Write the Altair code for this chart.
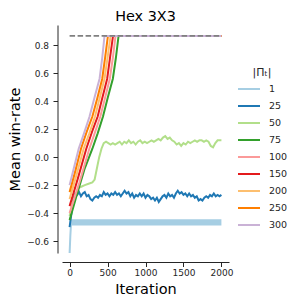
import altair as alt
import pandas as pd

# ---- data ----
policy_sizes = ["1", "25", "50", "75", "100", "150", "200", "250", "300"]
palette = ["#a6cee3", "#1f78b4", "#b2df8a", "#33a02c", "#fb9a99",
           "#e31a1c", "#fdbf6f", "#ff7f00", "#cab2d6"]

optimum_x = [0, 2000]
optimum_y = [0.866, 0.866]

# |Pi_t| = 1 : start segment, then a thin oscillating band
s1_x = [0, 10, 20]
s1_y = [-0.69, -0.56, -0.466]
band_x = [20, 2000]
band_lo = [-0.488, -0.488]
band_hi = [-0.443, -0.443]

s25_x = [0, 25, 50, 75, 100, 125, 150, 175, 200, 225, 250, 275, 300, 325, 350,
         375, 400, 425, 450, 475, 500, 525, 550, 575, 600, 625, 650, 675, 700,
         725, 750, 775, 800, 825, 850, 875, 900, 925, 950, 975, 1000, 1025, 1050,
         1075, 1100, 1125, 1150, 1175, 1200, 1225, 1250, 1275, 1300, 1325, 1350,
         1375, 1400, 1425, 1450, 1475, 1500, 1525, 1550, 1575, 1600, 1625, 1650,
         1675, 1700, 1725, 1750, 1775, 1800, 1825, 1850, 1875, 1900, 1925, 1950,
         1975, 2000]
s25_y = [-0.50, -0.40, -0.30, -0.26, -0.27, -0.25, -0.28, -0.26, -0.25, -0.28,
         -0.27, -0.30, -0.31, -0.29, -0.28, -0.29, -0.27, -0.28, -0.25, -0.27,
         -0.26, -0.28, -0.26, -0.27, -0.25, -0.27, -0.26, -0.28, -0.26, -0.24,
         -0.26, -0.25, -0.28, -0.26, -0.29, -0.27, -0.28, -0.26, -0.28, -0.26,
         -0.29, -0.27, -0.28, -0.30, -0.29, -0.31, -0.29, -0.32, -0.30, -0.28,
         -0.27, -0.29, -0.26, -0.28, -0.27, -0.29, -0.26, -0.24, -0.26, -0.25,
         -0.27, -0.26, -0.28, -0.26, -0.28, -0.27, -0.29, -0.28, -0.31, -0.30,
         -0.31, -0.29, -0.28, -0.29, -0.27, -0.28, -0.26, -0.28, -0.27, -0.28,
         -0.27]

s50_x = [0, 40, 80, 120, 160, 200, 250, 300, 330, 360, 390, 420, 450, 480, 510,
         540, 570, 600, 630, 660, 690, 720, 750, 780, 810, 840, 870, 900, 930,
         960, 990, 1020, 1050, 1080, 1110, 1140, 1170, 1200, 1230, 1260, 1290,
         1320, 1350, 1380, 1410, 1440, 1470, 1500, 1530, 1560, 1590, 1620, 1650,
         1680, 1710, 1740, 1770, 1800, 1830, 1860, 1890, 1920, 1950, 2000]
s50_y = [-0.42, -0.33, -0.26, -0.22, -0.21, -0.20, -0.19, -0.18, -0.16, -0.08,
         0.00, 0.06, 0.10, 0.11, 0.10, 0.09, 0.10, 0.09, 0.10, 0.11, 0.09, 0.11,
         0.10, 0.12, 0.10, 0.11, 0.09, 0.11, 0.12, 0.10, 0.11, 0.10, 0.11, 0.12,
         0.11, 0.12, 0.13, 0.12, 0.14, 0.15, 0.13, 0.14, 0.12, 0.11, 0.09, 0.10,
         0.08, 0.10, 0.09, 0.11, 0.10, 0.11, 0.12, 0.11, 0.12, 0.12, 0.11, 0.12,
         0.11, 0.08, 0.07, 0.10, 0.12, 0.12]

s75_x = [0, 100, 200, 300, 370, 440, 505, 570, 610, 645, 2000]
s75_y = [-0.45, -0.26, -0.08, 0.06, 0.17, 0.29, 0.43, 0.56, 0.71, 0.866, 0.866]
s100_x = [0, 130, 260, 330, 405, 470, 530, 570, 605, 2000]
s100_y = [-0.40, -0.18, 0.06, 0.17, 0.29, 0.43, 0.56, 0.71, 0.866, 0.866]
s150_x = [0, 110, 220, 295, 370, 430, 495, 535, 572, 2000]
s150_y = [-0.35, -0.15, 0.06, 0.18, 0.29, 0.42, 0.56, 0.72, 0.866, 0.866]
s200_x = [0, 90, 185, 260, 335, 400, 460, 500, 540, 2000]
s200_y = [-0.30, -0.13, 0.06, 0.17, 0.29, 0.43, 0.56, 0.71, 0.866, 0.866]
s250_x = [0, 75, 150, 225, 300, 365, 430, 470, 505, 2000]
s250_y = [-0.25, -0.10, 0.06, 0.18, 0.29, 0.42, 0.56, 0.72, 0.866, 0.866]
s300_x = [0, 60, 120, 190, 263, 330, 395, 430, 460, 2000]
s300_y = [-0.20, -0.07, 0.06, 0.17, 0.29, 0.43, 0.56, 0.71, 0.866, 0.866]

x_ticks = [0, 500, 1000, 1500, 2000]
y_ticks = [-0.6, -0.4, -0.2, 0.0, 0.2, 0.4, 0.6, 0.8]

# ---- tables ----
series = [("1", s1_x, s1_y), ("25", s25_x, s25_y), ("50", s50_x, s50_y),
          ("75", s75_x, s75_y), ("100", s100_x, s100_y), ("150", s150_x, s150_y),
          ("200", s200_x, s200_y), ("250", s250_x, s250_y), ("300", s300_x, s300_y)]
rows = []
for name, xs, ys in series:
    for xv, yv in zip(xs, ys):
        rows.append({"policies": name, "iteration": xv, "winrate": yv})
df = pd.DataFrame(rows)
band_df = pd.DataFrame({"iteration": band_x, "lo": band_lo, "hi": band_hi})
opt_df = pd.DataFrame({"iteration": optimum_x, "winrate": optimum_y})

x_scale = alt.Scale(domain=[-100, 2100], nice=False, zero=False)
y_scale = alt.Scale(domain=[-0.685, 0.944], nice=False, zero=False)

x_axis = alt.Axis(values=x_ticks, title="Iteration", offset=9, labelPadding=2,
                  titlePadding=5, format="d")
y_axis = alt.Axis(values=y_ticks, title="Mean win-rate", offset=4.5, labelPadding=4.5,
                  titlePadding=4, format=".1f")

band = alt.Chart(band_df).mark_area(color="#a6cee3", opacity=1).encode(
    x=alt.X("iteration:Q", scale=x_scale, axis=x_axis),
    y=alt.Y("lo:Q", scale=y_scale, axis=y_axis),
    y2="hi:Q",
)

lines = alt.Chart(df).mark_line(strokeWidth=2, clip=True).encode(
    x=alt.X("iteration:Q", scale=x_scale, axis=x_axis),
    y=alt.Y("winrate:Q", scale=y_scale, axis=y_axis),
    color=alt.Color(
        "policies:N",
        scale=alt.Scale(domain=policy_sizes, range=palette),
        sort=policy_sizes,
        legend=alt.Legend(
            title="|Πₜ|", orient="none", legendX=175, legendY=42,
            symbolType="stroke", symbolSize=484, symbolStrokeWidth=2,
            labelOffset=8, rowPadding=-9, titleAnchor="middle",
            titleFontSize=11, titleFontWeight="normal", labelFontSize=9.5,
            titlePadding=-1, titleFont="DejaVu Sans", labelFont="DejaVu Sans",
            labelColor="#262626", titleColor="#262626",
        ),
    ),
)

opt = alt.Chart(opt_df).mark_line(color="#808080", strokeWidth=1.8,
                                   strokeDash=[5.5, 2.5]).encode(
    x=alt.X("iteration:Q", scale=x_scale, axis=x_axis),
    y=alt.Y("winrate:Q", scale=y_scale, axis=y_axis),
)

chart = alt.layer(band, lines, opt).properties(
    width=167, height=228,
    title=alt.TitleParams("Hex 3X3", fontSize=14.4, font="DejaVu Sans",
                          fontWeight="normal", offset=1, color="#000000"),
    autosize=alt.AutoSizeParams(type="none"),
    padding={"left": 54, "top": 17, "right": 60, "bottom": 43},
).configure_view(stroke=None).configure_axis(
    grid=False, domainColor="#262626", tickColor="#262626", labelColor="#262626",
    titleColor="#000000", labelFont="DejaVu Sans", titleFont="DejaVu Sans",
    labelFontSize=9, titleFontSize=14.5, titleFontWeight="normal",
    tickSize=4.5, domainWidth=1, tickWidth=1,
)

chart.save("out.html", embed_options={"renderer": "svg", "actions": False})
